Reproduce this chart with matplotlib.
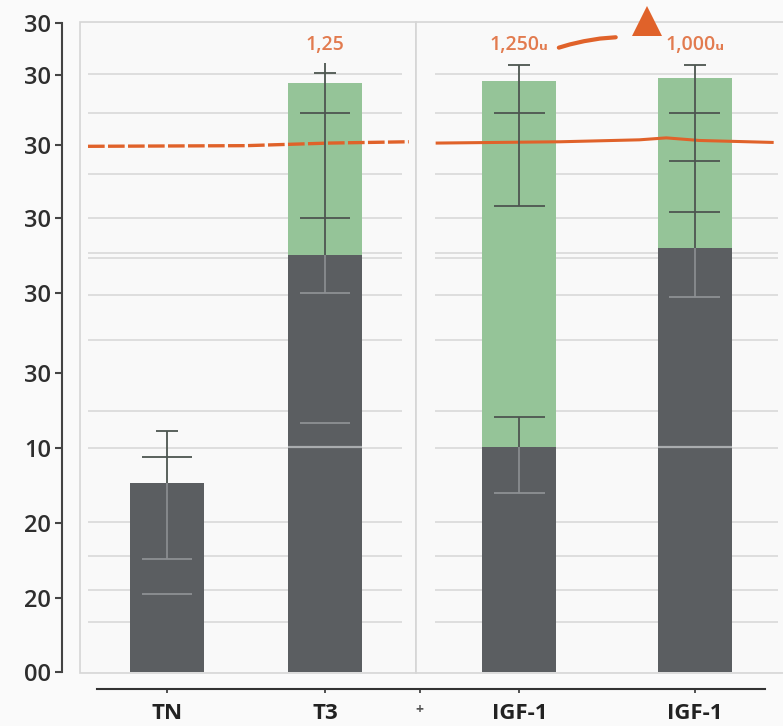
import matplotlib
matplotlib.use("Agg")
import matplotlib.pyplot as plt
from matplotlib.patches import Rectangle

plt.rcParams['font.family'] = ['Open Sans', 'DejaVu Sans']

# ---- data ----
categories = ['TN', 'T3', '+', 'IGF-1', 'IGF-1']
cat_pos = [0.0, 1.0, 1.6, 2.23, 3.34]

bar_idx = [0, 1, 3, 4]
dark_vals = [29.1, 64.3, 34.7, 65.3]
green_vals = [0.0, 26.5, 56.4, 26.2]

whiskers = [[(17.4, 37.1)],
            [(58.4, 93.8)],
            [(71.8, 93.5), (27.6, 39.3)],
            [(57.8, 93.5)]]
caps = [[37.1, 33.1, 17.4, 12.0],
        [92.3, 86.1, 70.0, 58.4, 38.4],
        [93.5, 86.1, 71.8, 39.3, 27.6],
        [93.5, 86.1, 78.7, 70.9, 57.8]]

bar_labels = ['', '1,25', '1,250\u1d64', '1,000\u1d64']

ytick_vals = [0, 11.4, 23.0, 34.5, 46.1, 58.4, 70.0, 81.2, 92.0, 100]
ytick_labels = ['00', '20', '20', '10', '30', '30', '30', '30', '30', '30']
grid_vals = [92.1, 86.1, 76.7, 70.0, 64.6, 63.8, 58.1, 51.2, 40.2, 34.5,
             23.1, 17.9, 12.6, 7.7]

line_left_x = [-0.5, 0.5, 1.03, 1.53]
line_left_y = [81.0, 81.1, 81.5, 81.7]
line_right_x = [1.71, 2.49, 2.99, 3.16, 3.37, 3.83]
line_right_y = [81.5, 81.7, 82.0, 82.3, 81.9, 81.6]

arrow_x = [2.48, 2.55, 2.64, 2.74, 2.84]
arrow_y = [96.2, 96.7, 97.2, 97.6, 97.8]
marker_x, marker_y = 3.04, 100.3

# ---- colours ----
dark = '#5b5e61'
green = '#95c498'
orange = '#e0622a'
orange_txt = '#e27b4f'
grid_c = '#dedede'

fig = plt.figure(figsize=(7.83, 7.26), dpi=100, facecolor='#fafafa')
ax = fig.add_axes([62 / 783, 54 / 726, 721 / 783, 649 / 726])
ax.set_facecolor('none')
ax.set_xlim(-105 / 158, 616 / 158)
ax.set_ylim(0, 100)


def px(x):
    return (x - 167) / 158


# panels
for x0, x1 in [(80, 416), (416, 790)]:
    ax.add_patch(Rectangle((px(x0), -0.2), px(x1) - px(x0), 100.4,
                           facecolor='#f9f9f9', edgecolor='#d6d6d6',
                           lw=1.2, zorder=0, clip_on=False))

# grid lines per panel
for xa, xb in [(px(88), px(402)), (px(435), px(778))]:
    ax.hlines(grid_vals, xa, xb, colors=grid_c, lw=1.4, zorder=1)

# bars
w = 74 / 158
bx = [cat_pos[i] for i in bar_idx]
ax.bar(bx, dark_vals, width=w, color=dark, zorder=2)
ax.bar(bx, green_vals, width=w, bottom=dark_vals, color=green, zorder=2)

# light separator over dark bars
for j in [1, 3]:
    ax.hlines(34.6, bx[j] - w / 2, bx[j] + w / 2, colors='#a9acae', lw=1.6, zorder=3)

# error bars: dark over light background / green, light over dark bar
for j, x in enumerate(bx):
    top_dark = dark_vals[j]
    for lo, hi in whiskers[j]:
        if lo < top_dark:
            ax.vlines(x, lo, min(hi, top_dark), colors='#8d9093', lw=1.2, zorder=4)
        if hi > top_dark:
            ax.vlines(x, max(lo, top_dark), hi, colors='#4d5650', lw=1.3, zorder=4)
    for k, c in enumerate(caps[j]):
        hw = 0.07 if k == 0 else 0.16
        col = '#8d9093' if c < top_dark else '#4d5650'
        ax.hlines(c, x - hw, x + hw, colors=col, lw=1.3, zorder=4)
    if bar_labels[j]:
        ax.text(x, 95.0, bar_labels[j], ha='center', va='bottom',
                color=orange_txt, fontsize=14, fontweight='semibold', zorder=5)

# orange reference line
ax.plot(line_left_x, line_left_y, color=orange, lw=2.4,
        linestyle=(0, (5, 1)), zorder=3)
ax.plot(line_right_x, line_right_y, color=orange, lw=2.2, zorder=3)
ax.plot(arrow_x, arrow_y, color=orange, lw=3, solid_capstyle='round',
        zorder=5, clip_on=False)
ax.plot([marker_x], [marker_y], marker='^', markersize=22, color=orange,
        markeredgewidth=0, zorder=6, clip_on=False)

# axes styling
for s in ['top', 'right']:
    ax.spines[s].set_visible(False)
ax.spines['left'].set_color('#444444')
ax.spines['left'].set_linewidth(1.5)
ax.spines['bottom'].set_color('#333333')
ax.spines['bottom'].set_linewidth(1.5)
ax.spines['bottom'].set_position(('outward', 12))
ax.spines['bottom'].set_bounds(px(97), px(765))

ax.set_yticks(ytick_vals)
ax.set_yticklabels(ytick_labels)
ax.tick_params(axis='y', length=5, width=1.5, color='#444444', pad=3,
               labelsize=17, labelcolor='#2e2e2e')
for t in ax.get_yticklabels():
    t.set_fontweight('semibold')
ax.set_xticks(cat_pos)
ax.set_xticklabels(categories)
ax.tick_params(axis='x', length=3, width=1.2, color='#333333', pad=7,
               labelsize=16, labelcolor='#222222')
for t in ax.get_xticklabels():
    t.set_fontweight('bold')
    if t.get_text() == '+':
        t.set_fontsize(10)
        t.set_color('#555555')

fig.savefig('out.png', dpi=100, facecolor=fig.get_facecolor())
